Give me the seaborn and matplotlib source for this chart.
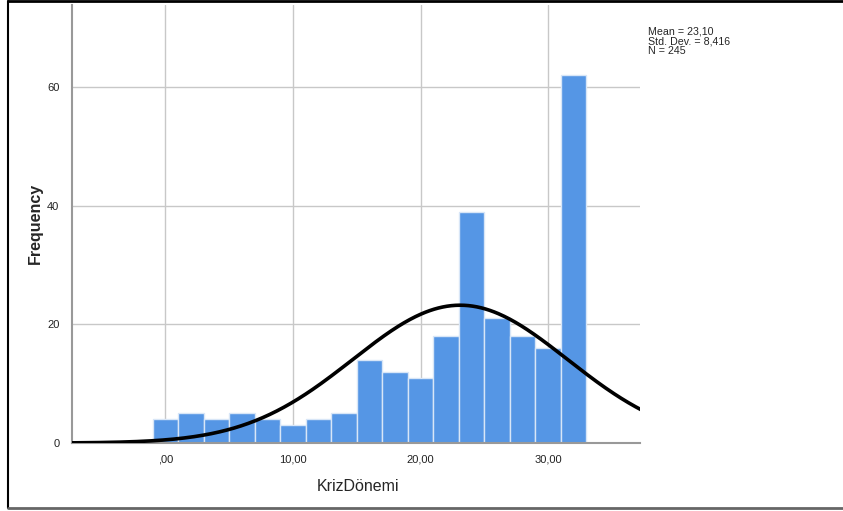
import numpy as np
import pandas as pd
import matplotlib
matplotlib.use("Agg")
import matplotlib.pyplot as plt
import seaborn as sns
from matplotlib.lines import Line2D

# histogram bins (KrizDönemi), width 2, centred on even values
bin_centers = [0, 2, 4, 6, 8, 10, 12, 14, 16, 18, 20, 22, 24, 26, 28, 30, 32]
counts = [4, 5, 4, 5, 4, 3, 4, 5, 14, 12, 11, 18, 39, 21, 18, 16, 62]
mean_val = 23.10
std_val = 8.416
n_total = 245
x_ticks = [0, 10, 20, 30]
x_tick_labels = [",00", "10,00", "20,00", "30,00"]
y_ticks = [0, 20, 40, 60]

sns.set_style("white")
plt.rcParams["font.family"] = ["Liberation Sans", "DejaVu Sans"]

fig = plt.figure(figsize=(8.43, 5.11), dpi=100)
ax = fig.add_axes([0.0854, 0.133, 0.6738, 0.857])

df = pd.DataFrame({"KrizDönemi": bin_centers, "count": counts})
edges = list(range(-1, 34, 2))
sns.histplot(data=df, x="KrizDönemi", weights="count", bins=edges, ax=ax,
             color="#5596e5", alpha=1, edgecolor="#d8e6f7", linewidth=1)

# normal curve scaled to counts
bw = 2
xs = np.linspace(-7.4, 37.3, 400)
ys = n_total * bw / (std_val * np.sqrt(2 * np.pi)) * np.exp(-0.5 * ((xs - mean_val) / std_val) ** 2)
ax.plot(xs, ys, color="black", linewidth=2.6, zorder=5)

ax.set_xlim(-7.33, 37.2)
ax.set_ylim(0, 73.8)
ax.set_xticks(x_ticks)
ax.set_xticklabels(x_tick_labels)
ax.set_yticks(y_ticks)
ax.grid(True, color="#c8c8c8", linewidth=1)
ax.set_axisbelow(True)
ax.tick_params(length=0, labelsize=8, colors="#222222")
ax.tick_params(axis="y", pad=9)
ax.tick_params(axis="x", pad=8)
for s in ["top", "right"]:
    ax.spines[s].set_visible(False)
for s in ["left", "bottom"]:
    ax.spines[s].set_color("#999999")
    ax.spines[s].set_linewidth(1.5)

ax.set_ylabel("")
ax.set_xlabel("")
fig.text(0.042, 0.562, "Frequency", rotation=90, ha="center", va="center",
         fontsize=11.5, fontweight="bold")
fig.text(0.425, 0.047, "KrizDönemi", ha="center", va="center",
         fontsize=11.5, fontweight="medium")
fig.text(0.769, 0.948, f"Mean = 23,10\nStd. Dev. = 8,416\nN = {n_total}",
         ha="left", va="top", fontsize=7.7, linespacing=0.95)

# outer frame
fig.add_artist(Line2D([0.0095, 1], [0.999, 0.999], color="black", linewidth=2, transform=fig.transFigure))
fig.add_artist(Line2D([0.0095, 0.0095], [0.006, 0.999], color="black", linewidth=1.5, transform=fig.transFigure))
fig.add_artist(Line2D([0.0095, 1], [0.006, 0.006], color="#666666", linewidth=2, transform=fig.transFigure))

fig.savefig("out.png", dpi=100)
